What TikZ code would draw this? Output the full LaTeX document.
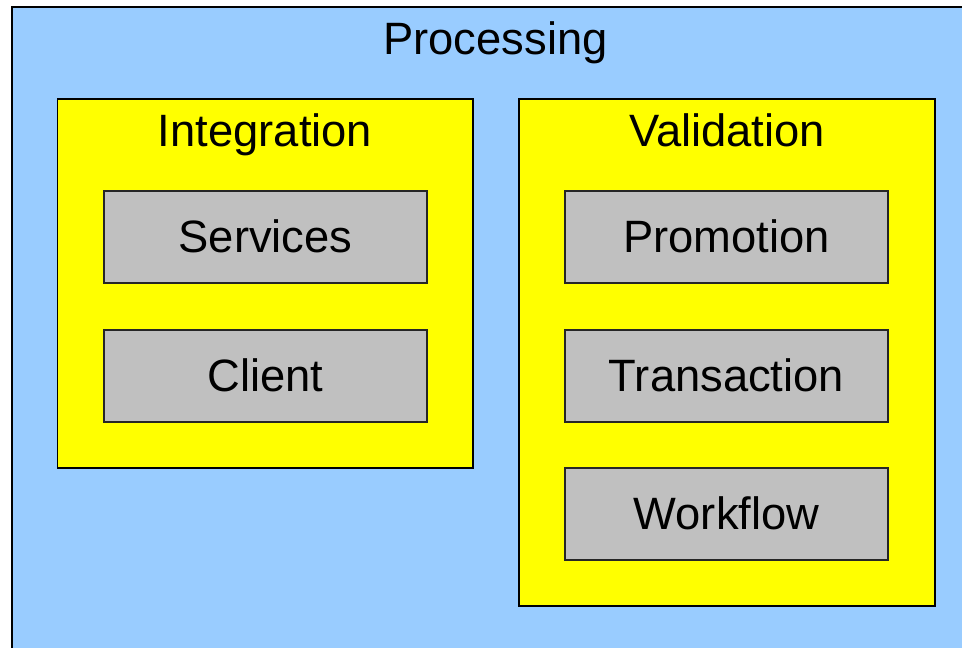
\documentclass[tikz,border=0pt]{standalone}
\usepackage{fontspec}
\setmainfont{Liberation Sans}
\usepackage{xcolor}
\definecolor{procblue}{RGB}{153,204,255}
\definecolor{groupyellow}{RGB}{255,255,0}
\definecolor{partgray}{RGB}{192,192,192}
\tikzset{
  outerbox/.style={draw=black,line width=1.3pt,fill=procblue},
  groupbox/.style={draw=black,line width=1.3pt,fill=groupyellow},
  partbox/.style={draw=black!85,line width=1.3pt,fill=partgray},
  boxtext/.style={inner sep=0pt,anchor=base,font=\fontsize{34}{40}\selectfont}
}
\begin{document}
\begin{tikzpicture}[x=0.75pt,y=0.75pt,yscale=-1,xscale=1]
\useasboundingbox (0,0) rectangle (962,648);

%Shape: Rectangle [Processing]
\draw [outerbox] (12,7) rectangle (980,662);
%Shape: Rectangle [Integration]
\draw [groupbox] (57.5,99) rectangle (473,468);
%Shape: Rectangle [Validation]
\draw [groupbox] (519,99) rectangle (935,606);

%Shape: Rectangle [Services]
\draw [partbox] (104,191) rectangle (427,283);
%Shape: Rectangle [Client]
\draw [partbox] (104,330) rectangle (427,422);
%Shape: Rectangle [Promotion]
\draw [partbox] (565,191) rectangle (888,283);
%Shape: Rectangle [Transaction]
\draw [partbox] (565,330) rectangle (888,422);
%Shape: Rectangle [Workflow]
\draw [partbox] (565,468) rectangle (888,560);

% Text Node
\node [boxtext] (processing) at (495.5,55) {Processing};
% Text Node
\node [boxtext] (integration) at (265,147) {Integration};
% Text Node
\node [boxtext] (validation) at (727,147) {Validation};
% Text Node
\node [boxtext] (services) at (265.5,252.5) {Services};
% Text Node
\node [boxtext] (client) at (265.5,391.5) {Client};
% Text Node
\node [boxtext] (promotion) at (726.5,252.5) {Promotion};
% Text Node
\node [boxtext] (transaction) at (726.5,391.5) {Transaction};
% Text Node
\node [boxtext] (workflow) at (726.5,529.5) {Workflow};

\end{tikzpicture}
\end{document}
